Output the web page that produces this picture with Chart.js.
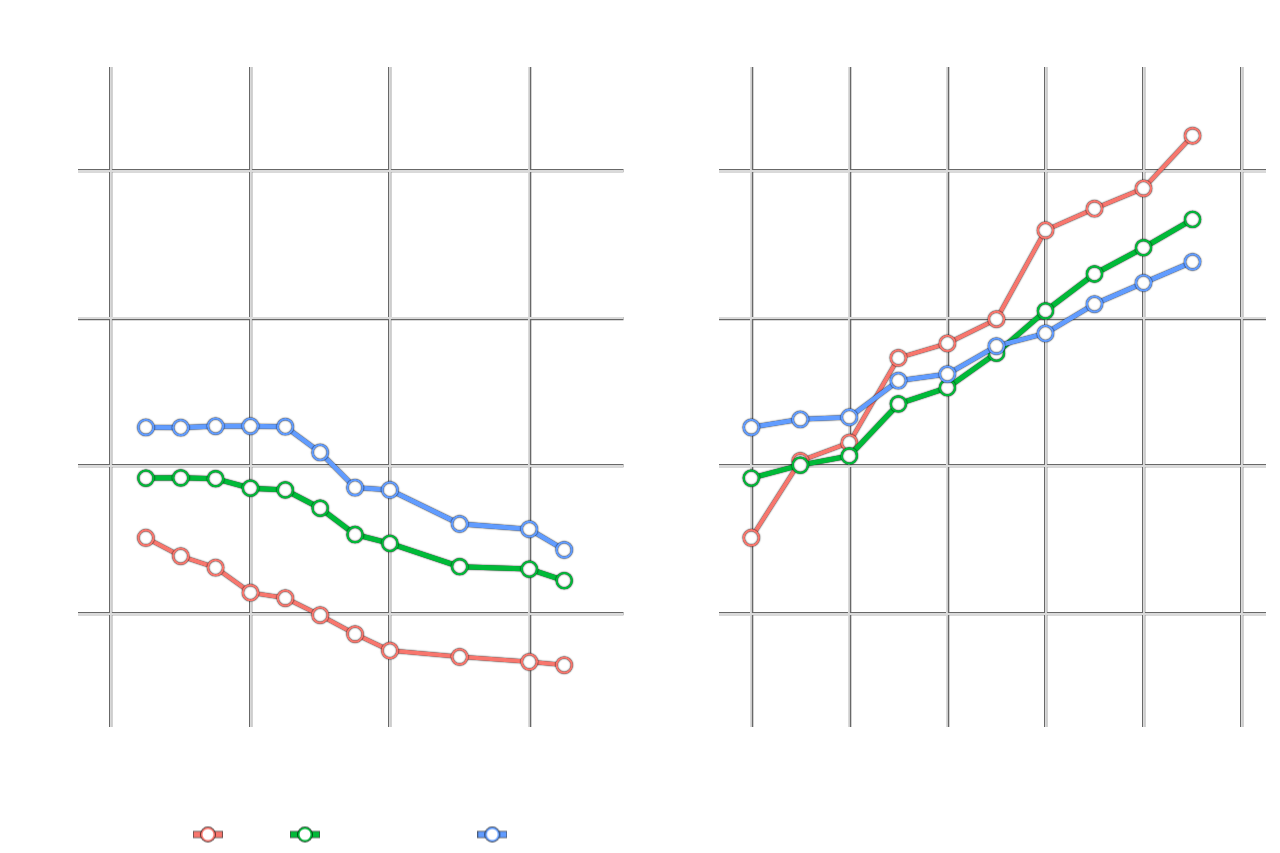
<!DOCTYPE html>
<html>
<head>
<meta charset="utf-8">
<script src="https://cdn.jsdelivr.net/npm/chart.js@4.4.1/dist/chart.umd.min.js"></script>
<style>
  html, body { margin: 0; padding: 0; background: #ffffff; overflow: hidden; }
  #wrap { position: relative; width: 1280px; height: 853px; }
  .panel { position: absolute; top: 0; width: 640px; height: 853px; }
  #pl { left: 0; }
  #pr { left: 640px; }
</style>
</head>
<body>
<div id="wrap">
  <div class="panel" id="pl"><canvas id="cl"></canvas></div>
  <div class="panel" id="pr"><canvas id="cr"></canvas></div>
</div>
<script>
// ---------------- data ----------------
const seriesNames = ['Group A', 'Group B (comparison)', 'Group C (other)'];

const leftX = [1, 2, 3, 4, 5, 6, 7, 8, 10, 12, 13];
const leftRed   = [0.757, 0.695, 0.656, 0.571, 0.553, 0.495, 0.431, 0.375, 0.354, 0.337, 0.326];
const leftGreen = [0.959, 0.960, 0.957, 0.925, 0.919, 0.857, 0.768, 0.738, 0.659, 0.651, 0.612];
const leftBlue  = [1.131, 1.130, 1.135, 1.135, 1.133, 1.046, 0.927, 0.919, 0.804, 0.786, 0.716];

const rightX = [0, 1, 2, 3, 4, 5, 6, 7, 8, 9];
const rightRed   = [0.757, 1.017, 1.079, 1.366, 1.415, 1.497, 1.798, 1.871, 1.940, 2.118];
const rightGreen = [0.959, 1.003, 1.034, 1.210, 1.265, 1.382, 1.525, 1.650, 1.739, 1.835];
const rightBlue  = [1.131, 1.158, 1.165, 1.289, 1.311, 1.406, 1.449, 1.548, 1.620, 1.691];

const yTicks = [0.5, 1.0, 1.5, 2.0];
const leftXTicks = [0, 4, 8, 12];
const rightXTicks = [0, 2, 4, 6, 8, 10];

// ---------------- style ----------------
const seriesColors = ['#F8766D', '#00BA38', '#619CFF'];
const seriesLineWidths = [4, 5, 4.6];
const Y_MIN = 0.1164, Y_MAX = 2.3507;
const PLOT_TOP = 67, PLOT_BOTTOM = 727;

Chart.defaults.font.family = "'DejaVu Sans', sans-serif";
Chart.defaults.font.size = 13;

function makeGlyph(color) {
  const c = document.createElement('canvas');
  c.width = 30; c.height = 18;
  const g = c.getContext('2d');
  g.fillStyle = 'rgba(0,0,0,0.75)';
  g.fillRect(0, 5.5, 30, 7);
  g.fillStyle = color;
  g.fillRect(0.7, 6.2, 28.6, 5.6);
  g.beginPath(); g.arc(15, 9, 7.9, 0, Math.PI * 2); g.fillStyle = 'rgba(0,0,0,0.8)'; g.fill();
  g.beginPath(); g.arc(15, 9, 7.2, 0, Math.PI * 2); g.fillStyle = color; g.fill();
  g.beginPath(); g.arc(15, 9, 5.5, 0, Math.PI * 2); g.fillStyle = '#ffffff'; g.fill();
  return c;
}

const halo = {
  id: 'halo',
  beforeDatasetsDraw(chart) {
    const ctx = chart.ctx;
    ctx.save();
    ctx.shadowColor = 'rgba(0,0,0,1)';
    ctx.shadowBlur = 1.6;
  },
  afterDatasetsDraw(chart) { chart.ctx.restore(); }
};

function buildDatasets(xs, ys) {
  return ys.map((vals, i) => ({
    label: seriesNames[i],
    data: xs.map((x, k) => ({ x: x, y: vals[k] })),
    borderColor: seriesColors[i],
    backgroundColor: seriesColors[i],
    borderWidth: seriesLineWidths[i],
    pointRadius: 7.6,
    pointHoverRadius: 7.6,
    pointBorderWidth: 2.1,
    pointBackgroundColor: '#ffffff',
    pointBorderColor: seriesColors[i],
    tension: 0,
    order: ys.length - 1 - i
  }));
}

function setTicks(arr) {
  return function (scale) { scale.ticks = arr.map(v => ({ value: v })); };
}

function makeOptions(cfg) {
  const fmtY = v => Number(v).toFixed(1);
  return {
    responsive: true,
    maintainAspectRatio: false,
    animation: false,
    events: [],
    layout: { padding: { top: PLOT_TOP, left: 0, right: cfg.padRight, bottom: cfg.padBottom } },
    plugins: {
      tooltip: { enabled: false },
      title: { display: false },
      legend: cfg.legend ? {
        display: true,
        position: 'bottom',
        align: 'end',
        labels: {
          color: '#ffffff',
          usePointStyle: true,
          pointStyleWidth: 30,
          padding: 8,
          font: { size: 13 },
          generateLabels: (chart) => chart.data.datasets.map((ds, i) => ({
            text: ds.label,
            fillStyle: seriesColors[i],
            strokeStyle: seriesColors[i],
            lineWidth: 0,
            pointStyle: makeGlyph(seriesColors[i]),
            fontColor: '#ffffff',
            hidden: false,
            datasetIndex: i
          }))
        }
      } : { display: false }
    },
    scales: {
      x: {
        type: 'linear', min: cfg.xMin, max: cfg.xMax,
        afterBuildTicks: setTicks(cfg.xTicks),
        grid: { color: '#686868', lineWidth: 3.3, drawTicks: false, z: -2 },
        border: { display: false },
        ticks: { color: '#ffffff', padding: 8, callback: v => String(v) },
        afterFit: (s) => {
          const lg = (cfg.legend && s.chart.legend) ? s.chart.legend.height : 0;
          s.height = Math.max(0, s.chart.height - PLOT_BOTTOM - cfg.padBottom - lg);
        }
      },
      y: {
        type: 'linear', min: Y_MIN, max: Y_MAX,
        afterBuildTicks: setTicks(yTicks),
        grid: { color: '#686868', lineWidth: 3.3, drawTicks: false, z: -2 },
        border: { display: false },
        ticks: { color: '#ffffff', padding: 8, callback: fmtY },
        afterFit: (s) => { s.width = cfg.yWidth; }
      },
      x2: {
        type: 'linear', axis: 'x', position: 'bottom', min: cfg.xMin, max: cfg.xMax,
        afterBuildTicks: setTicks(cfg.xTicks),
        grid: { color: '#dadada', lineWidth: 1.9, drawTicks: false, z: -1 },
        border: { display: false },
        ticks: { display: false }
      },
      y2: {
        type: 'linear', axis: 'y', position: 'left', min: Y_MIN, max: Y_MAX,
        afterBuildTicks: setTicks(yTicks),
        grid: { color: '#dadada', lineWidth: 1.9, drawTicks: false, z: -1 },
        border: { display: false },
        ticks: { display: false }
      }
    }
  };
}

new Chart(document.getElementById('cl'), {
  type: 'line',
  data: { datasets: buildDatasets(leftX, [leftRed, leftGreen, leftBlue]) },
  options: makeOptions({ xMin: -0.947, xMax: 14.70, xTicks: leftXTicks, yWidth: 78, padRight: 16.5, padBottom: 2, legend: true }),
  plugins: [halo]
});

new Chart(document.getElementById('cr'), {
  type: 'line',
  data: { datasets: buildDatasets(rightX, [rightRed, rightGreen, rightBlue]) },
  options: makeOptions({ xMin: -0.667, xMax: 10.498, xTicks: rightXTicks, yWidth: 78.6, padRight: 14, padBottom: 0, legend: false }),
  plugins: [halo]
});
</script>
</body>
</html>
